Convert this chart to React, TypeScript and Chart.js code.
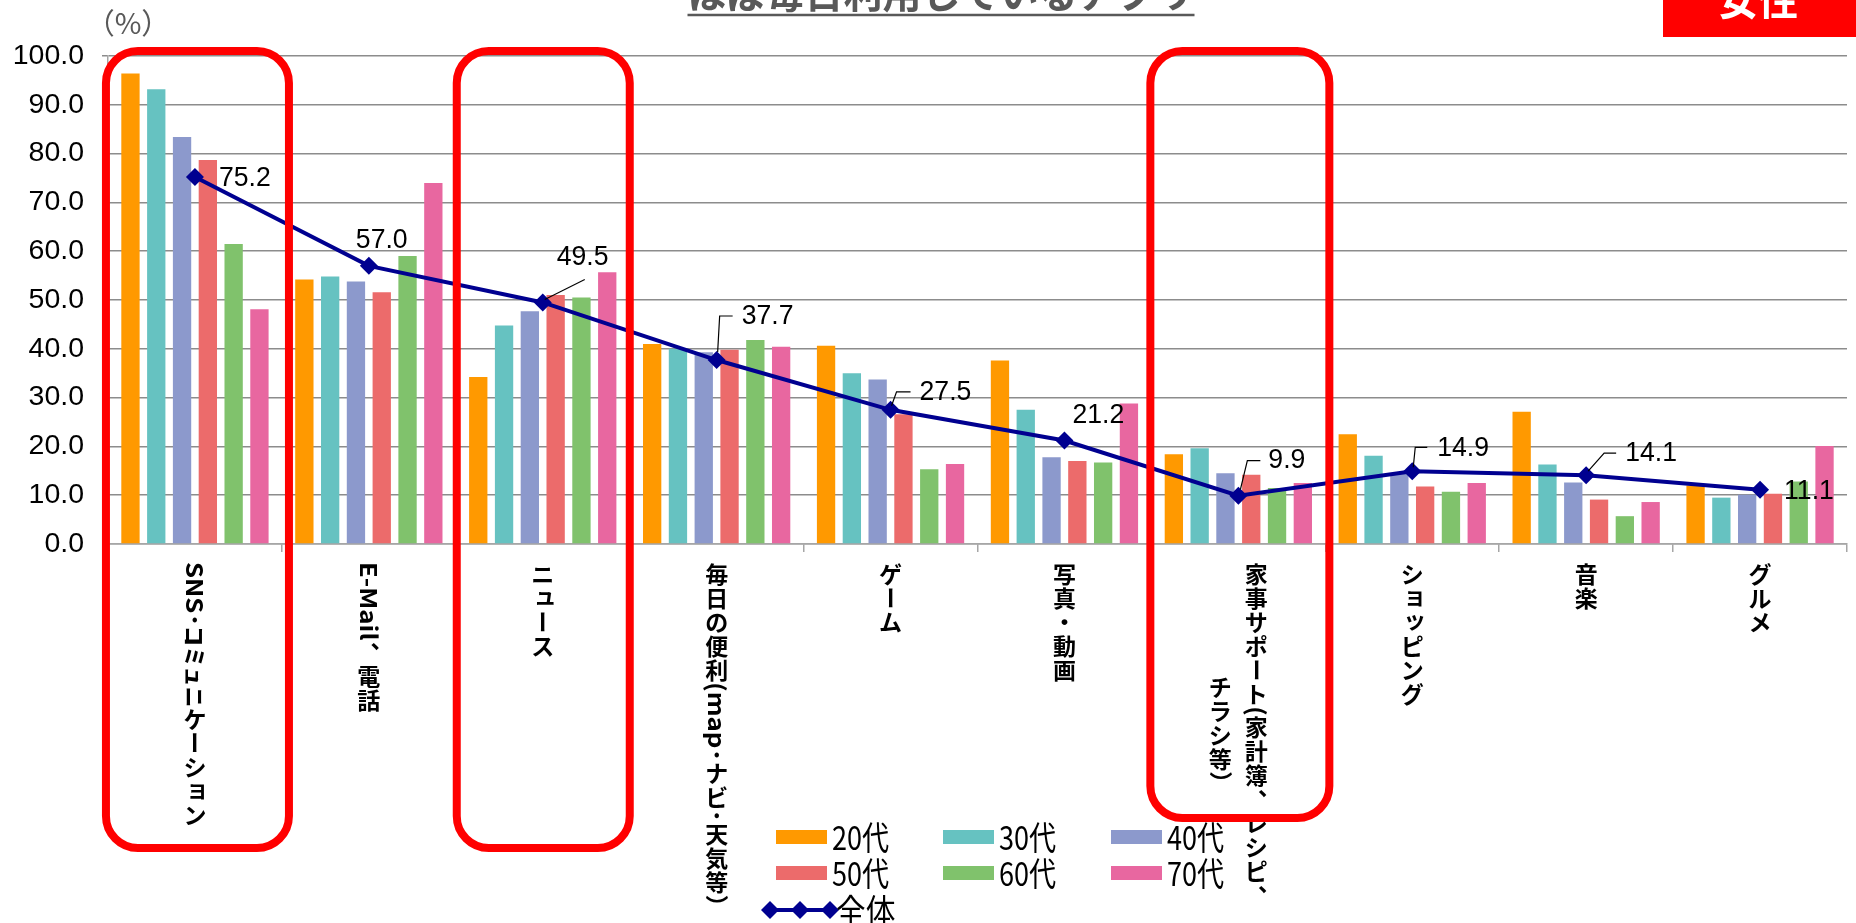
import React, { useEffect, useRef } from 'react';
import { Chart, registerables } from 'chart.js';

Chart.register(...registerables);

// ---------- data ----------
const categories: string[][] = [
  ['SNS･ｺﾐｭﾆケーション'],
  ['E-Mail、電話'],
  ['ニュース'],
  ['毎日の便利(map･ナビ･天気等）'],
  ['ゲーム'],
  ['写真・動画'],
  ['家事サポート(家計簿、レシピ、', 'チラシ等）'],
  ['ショッピング'],
  ['音楽'],
  ['グルメ'],
];

const seriesNames = ['20代', '30代', '40代', '50代', '60代', '70代'];
const age20 = [96.4, 54.2, 34.2, 41.0, 40.6, 37.6, 18.4, 22.5, 27.1, 12.0];
const age30 = [93.2, 54.8, 44.8, 40.0, 35.0, 27.5, 19.6, 18.1, 16.3, 9.5];
const age40 = [83.4, 53.8, 47.7, 39.3, 33.7, 17.8, 14.5, 14.5, 12.6, 10.1];
const age50 = [78.7, 51.6, 51.0, 39.8, 26.6, 17.0, 14.2, 11.8, 9.1, 10.3];
const age60 = [61.5, 59.0, 50.5, 41.8, 15.3, 16.7, 11.5, 10.7, 5.7, 12.8];
const age70 = [48.1, 74.0, 55.7, 40.4, 16.4, 28.8, 12.5, 12.5, 8.6, 20.1];
const totalName = '全体';
const total = [75.2, 57.0, 49.5, 37.7, 27.5, 21.2, 9.9, 14.9, 14.1, 11.1];

const titleText = 'ほぼ毎日利用しているアプリ';
const badgeText = '女性';
const unitText = '（%）';
const highlightedCategories = [0, 2, 6];

// ---------- styles / layout ----------
const barColors = ['#FF9900', '#66C2C1', '#8C99CC', '#EC6B6B', '#80C26C', '#E867A0'];
const lineColor = '#000090';
const W = 1856;
const H = 923;

// label placement relative to the marker: text left dx, text center dy, leader polyline
const labelOffsets: { dx: number; dy: number; leader?: number[][] }[] = [
  { dx: 24, dy: 1 },
  { dx: -13, dy: -26 },
  { dx: 14, dy: -45, leader: [[2, -3], [42, -23]] },
  { dx: 25, dy: -44, leader: [[1, -8], [3, -44], [16, -44]] },
  { dx: 29, dy: -18, leader: [[1, -4], [6, -18], [20, -18]] },
  { dx: 8, dy: -25 },
  { dx: 30, dy: -35, leader: [[2, -6], [9, -35], [22, -35]] },
  { dx: 25, dy: -23, leader: [[1, -4], [3, -24], [15, -24]] },
  { dx: 39, dy: -22, leader: [[2, -4], [18, -22], [30, -22]] },
  { dx: 24, dy: 1 },
];

const boxGeom = [
  { l: -89, r: 94, t: 51, b: 848 },
  { l: -86, r: 87, t: 51, b: 848 },
  { l: -88, r: 91, t: 51, b: 818 },
];

const smallKana = 'ァィゥェォッャュョヮヵヶぁぃぅぇぉっゃゅょゎ';
const rotateChars = 'ー（）〜－―';

function isHalfKana(c: string) {
  const code = c.codePointAt(0) || 0;
  return code >= 0xff66 && code <= 0xff9f;
}

function isSideways(c: string) {
  const code = c.codePointAt(0) || 0;
  return code < 0x2e80 || (code >= 0xff61 && code <= 0xff9f);
}

function sideScale(run: string) {
  return isHalfKana(run[0]) ? 1.75 : 1.12;
}

// split a sideways run into sub-runs of half-width kana vs others
function splitRuns(run: string) {
  const out: string[] = [];
  let cur = '';
  for (const ch of Array.from(run)) {
    if (cur && isHalfKana(ch) !== isHalfKana(Array.from(cur)[0])) {
      out.push(cur);
      cur = '';
    }
    cur += ch;
  }
  if (cur) out.push(cur);
  return out;
}

function drawVertical(ctx: CanvasRenderingContext2D, text: string, cx: number, top: number, em: number) {
  const chars = Array.from(text);
  let y = top;
  let i = 0;
  while (i < chars.length) {
    const c = chars[i];
    if (isSideways(c)) {
      let run = '';
      while (i < chars.length && isSideways(chars[i])) {
        run += chars[i];
        i++;
      }
      splitRuns(run).forEach((sub) => {
        const s = sideScale(sub);
        const w = ctx.measureText(sub).width * s;
        ctx.save();
        ctx.translate(cx, y);
        ctx.rotate(Math.PI / 2);
        ctx.scale(s, 1);
        ctx.textAlign = 'left';
        ctx.textBaseline = 'middle';
        ctx.fillText(sub, 0, 0);
        ctx.restore();
        y += w;
      });
      continue;
    }
    ctx.save();
    ctx.textAlign = 'center';
    ctx.textBaseline = 'middle';
    if (rotateChars.includes(c)) {
      ctx.translate(cx, y + em / 2);
      ctx.rotate(Math.PI / 2);
      ctx.fillText(c, 0, 0);
    } else if ('、。'.includes(c)) {
      ctx.fillText(c, cx + em * 0.55, y + em / 2 - em * 0.55);
    } else if (smallKana.includes(c)) {
      ctx.fillText(c, cx + em * 0.1, y + em / 2 - em * 0.1);
    } else {
      ctx.fillText(c, cx, y + em / 2);
    }
    ctx.restore();
    y += em;
    i++;
  }
  return y - top;
}

function measureVertical(ctx: CanvasRenderingContext2D, text: string, em: number) {
  const chars = Array.from(text);
  let h = 0;
  let i = 0;
  while (i < chars.length) {
    if (isSideways(chars[i])) {
      let run = '';
      while (i < chars.length && isSideways(chars[i])) {
        run += chars[i];
        i++;
      }
      splitRuns(run).forEach((sub) => {
        h += ctx.measureText(sub).width * sideScale(sub);
      });
    } else {
      h += em;
      i++;
    }
  }
  return h;
}

function roundRectPath(ctx: CanvasRenderingContext2D, x0: number, y0: number, x1: number, y1: number, r: number) {
  ctx.beginPath();
  ctx.moveTo(x0 + r, y0);
  ctx.arcTo(x1, y0, x1, y1, r);
  ctx.arcTo(x1, y1, x0, y1, r);
  ctx.arcTo(x0, y1, x0, y0, r);
  ctx.arcTo(x0, y0, x1, y0, r);
  ctx.closePath();
}

function diamond(ctx: CanvasRenderingContext2D, x: number, y: number, r: number) {
  ctx.beginPath();
  ctx.moveTo(x, y - r);
  ctx.lineTo(x + r, y);
  ctx.lineTo(x, y + r);
  ctx.lineTo(x - r, y);
  ctx.closePath();
  ctx.fill();
}

function condensedText(ctx: CanvasRenderingContext2D, text: string, x: number, y: number, sx: number) {
  ctx.save();
  ctx.translate(x, y);
  ctx.scale(sx, 1);
  ctx.fillText(text, 0, 0);
  ctx.restore();
}

const decorPlugin = {
  id: 'decor',
  afterDraw(chart: any) {
    const ctx: CanvasRenderingContext2D = chart.ctx;
    const xs = chart.scales.x;
    const area = chart.chartArea;
    const lineIdx = chart.data.datasets.length - 1;
    const meta = chart.getDatasetMeta(lineIdx);

    // data labels of the total line
    ctx.save();
    ctx.font = '28px "Liberation Sans", Arial, sans-serif';
    ctx.fillStyle = '#000';
    ctx.strokeStyle = '#000';
    ctx.lineWidth = 1.2;
    ctx.textAlign = 'left';
    ctx.textBaseline = 'middle';
    meta.data.forEach((pt: any, i: number) => {
      const o = labelOffsets[i];
      const v = chart.data.datasets[lineIdx].data[i] as number;
      condensedText(ctx, v.toFixed(1), pt.x + o.dx, pt.y + o.dy, 0.95);
      if (o.leader) {
        ctx.beginPath();
        o.leader.forEach((p, k) => {
          if (k === 0) ctx.moveTo(pt.x + p[0], pt.y + p[1]);
          else ctx.lineTo(pt.x + p[0], pt.y + p[1]);
        });
        ctx.stroke();
      }
    });
    ctx.restore();

    // vertical category labels
    ctx.save();
    const em = 24;
    ctx.font = 'bold 23px "Noto Sans CJK JP", sans-serif';
    ctx.fillStyle = '#000';
    const top = area.bottom + 18;
    (chart.data.labels as string[][]).forEach((cols, i) => {
      const cx = xs.getPixelForValue(i);
      const heights = cols.map((c) => measureVertical(ctx, c, em));
      const maxH = Math.max(...heights);
      const colGap = 36;
      cols.forEach((c, k) => {
        const x = cx + ((cols.length - 1) / 2 - k) * colGap;
        const t = cols.length > 1 ? top + (maxH - heights[k]) / 2 : top;
        drawVertical(ctx, c, x, t, em);
      });
    });
    ctx.restore();

    // legend
    ctx.save();
    const colX = [776, 943, 1111];
    const rowY = [837, 873, 910];
    ctx.font = '33px "Noto Sans CJK JP", sans-serif';
    ctx.textAlign = 'left';
    ctx.textBaseline = 'middle';
    for (let i = 0; i < lineIdx; i++) {
      const ds = chart.data.datasets[i];
      const x = colX[i % 3];
      const y = rowY[Math.floor(i / 3)];
      ctx.fillStyle = ds.backgroundColor as string;
      ctx.fillRect(x, y - 7, 51, 14);
      ctx.fillStyle = '#000';
      condensedText(ctx, ds.label as string, x + 56, y, 0.82);
    }
    {
      const ds = chart.data.datasets[lineIdx];
      const y = rowY[2];
      ctx.strokeStyle = ds.borderColor as string;
      ctx.fillStyle = ds.borderColor as string;
      ctx.lineWidth = 4;
      ctx.beginPath();
      ctx.moveTo(770, y);
      ctx.lineTo(830, y);
      ctx.stroke();
      [770, 800, 830].forEach((x) => diamond(ctx, x, y, 9));
      ctx.fillStyle = '#000';
      condensedText(ctx, ds.label as string, 836, y, 0.9);
    }
    ctx.restore();

    // red highlight boxes
    ctx.save();
    ctx.strokeStyle = '#FF0000';
    ctx.lineWidth = 8;
    highlightedCategories.forEach((ci, k) => {
      const cx = xs.getPixelForValue(ci);
      const g = boxGeom[k];
      roundRectPath(ctx, cx + g.l, g.t, cx + g.r, g.b, 32);
      ctx.stroke();
    });
    ctx.restore();

    // title (partly cut at the top)
    ctx.save();
    ctx.font = 'bold 39px "Noto Sans CJK JP", sans-serif';
    ctx.fillStyle = '#595959';
    ctx.textAlign = 'center';
    ctx.textBaseline = 'alphabetic';
    const tx = 941;
    ctx.fillText(titleText, tx, 8);
    const tw = ctx.measureText(titleText).width;
    ctx.strokeStyle = '#595959';
    ctx.lineWidth = 2.5;
    ctx.beginPath();
    ctx.moveTo(tx - tw / 2, 15);
    ctx.lineTo(tx + tw / 2, 15);
    ctx.stroke();
    ctx.restore();

    // badge
    ctx.save();
    ctx.fillStyle = '#FF0000';
    ctx.fillRect(1663, 0, W - 1663, 37);
    ctx.fillStyle = '#FFFFFF';
    ctx.font = 'bold 40px "Noto Sans CJK JP", sans-serif';
    ctx.textAlign = 'center';
    ctx.textBaseline = 'alphabetic';
    ctx.fillText(badgeText, 1758, 15);
    ctx.restore();

    // unit
    ctx.save();
    ctx.fillStyle = '#595959';
    ctx.font = '29px "Noto Sans CJK JP", sans-serif';
    ctx.textAlign = 'center';
    ctx.textBaseline = 'middle';
    ctx.fillText(unitText, 128, 23);
    ctx.restore();
  },
};

export default function App() {
  const ref = useRef<HTMLCanvasElement | null>(null);

  useEffect(() => {
    if (!ref.current) return;
    const series = [age20, age30, age40, age50, age60, age70];
    const chart = new Chart(ref.current, {
      type: 'bar',
      data: {
        labels: categories as any,
        datasets: [
          ...series.map((d, i) => ({
            type: 'bar' as const,
            label: seriesNames[i],
            data: d,
            backgroundColor: barColors[i],
            borderWidth: 0,
            categoryPercentage: 0.89,
            barPercentage: 0.71,
            order: 2,
          })),
          {
            type: 'line' as const,
            label: totalName,
            data: total,
            borderColor: lineColor,
            backgroundColor: lineColor,
            borderWidth: 4,
            pointStyle: 'rectRot',
            pointRadius: 9,
            pointBackgroundColor: lineColor,
            pointBorderColor: lineColor,
            pointBorderWidth: 0,
            tension: 0,
            order: 0,
          } as any,
        ],
      },
      options: {
        responsive: false,
        animation: false,
        devicePixelRatio: 1,
        layout: { padding: { top: 56, right: 0, bottom: 371, left: 0 } },
        plugins: {
          legend: { display: false },
          tooltip: { enabled: false },
          title: { display: false },
        },
        scales: {
          x: {
            offset: true,
            grid: {
              offset: true,
              drawOnChartArea: false,
              drawTicks: true,
              tickLength: 8,
              color: '#A6A6A6',
              lineWidth: 1.5,
            },
            border: { display: true, color: '#A6A6A6', width: 1.5 },
            ticks: { display: false },
          },
          y: {
            min: 0,
            max: 100,
            afterFit: (scale: any) => {
              scale.width = 108;
            },
            grid: {
              color: '#8C8C8C',
              lineWidth: 1.5,
              drawTicks: true,
              tickLength: 6,
            },
            border: { display: true, color: '#A6A6A6', width: 1.5 },
            ticks: {
              stepSize: 10,
              padding: 18,
              color: '#000',
              font: { family: '"Liberation Sans", Arial, sans-serif', size: 28.5 },
              callback: (v: any) => Number(v).toFixed(1),
            },
          },
        },
      },
      plugins: [decorPlugin],
    });
    return () => chart.destroy();
  }, []);

  return (
    <div style={{ position: 'fixed', left: 0, top: 0, width: W, height: H, background: '#fff' }}>
      <canvas ref={ref} width={W} height={H} style={{ display: 'block', width: W, height: H }} />
    </div>
  );
}
